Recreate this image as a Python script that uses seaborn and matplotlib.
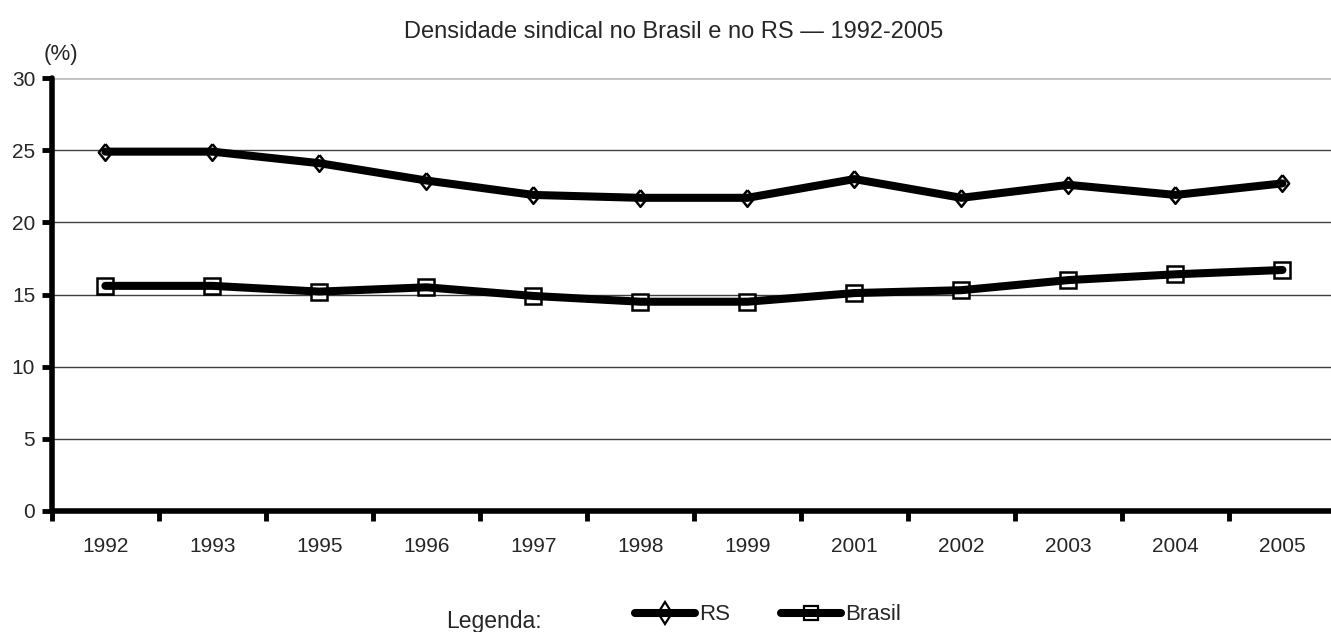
import pandas as pd
import numpy as np
import matplotlib
matplotlib.use("Agg")
import matplotlib.pyplot as plt
import seaborn as sns
from matplotlib.ticker import FixedLocator
from matplotlib.lines import Line2D
from matplotlib.legend_handler import HandlerTuple

# Dados
anos = ["1992", "1993", "1995", "1996", "1997", "1998", "1999", "2001", "2002", "2003", "2004", "2005"]
rs = [24.9, 24.9, 24.1, 22.9, 21.9, 21.7, 21.7, 23.0, 21.7, 22.6, 21.9, 22.7]
brasil = [15.6, 15.6, 15.2, 15.5, 14.9, 14.5, 14.5, 15.1, 15.3, 16.0, 16.4, 16.7]
series = ["RS", "Brasil"]

df = pd.DataFrame({
    "Ano": anos * 2,
    "Densidade": rs + brasil,
    "Serie": ["RS"] * len(anos) + ["Brasil"] * len(anos),
})

sns.set_style("white")
plt.rcParams["font.family"] = ["Liberation Sans", "DejaVu Sans"]

# losango um pouco mais alto que largo, como no Excel
losango = [(0, 1), (0.8, 0), (0, -1), (-0.8, 0), (0, 1)]
tam_marcador = {"RS": 12, "Brasil": 11}

fig = plt.figure(figsize=(13.31, 6.32), dpi=100)
ax = fig.add_axes([0.039, 0.1915, 0.9647, 0.685])

# marcadores por baixo, linha por cima (como no original)
sns.lineplot(data=df, x="Ano", y="Densidade", hue="Serie", style="Serie",
             hue_order=series, style_order=series,
             palette={"RS": "black", "Brasil": "black"},
             markers={"RS": losango, "Brasil": "s"}, dashes=False,
             linestyle="none", markersize=11, markerfacecolor="white",
             markeredgecolor="black", markeredgewidth=1.8,
             ax=ax, legend=False, zorder=2)
for ln, nome in zip(ax.get_lines(), series):
    ln.set_markersize(tam_marcador[nome])

sns.lineplot(data=df, x="Ano", y="Densidade", hue="Serie", hue_order=series,
             palette={"RS": "black", "Brasil": "black"},
             linewidth=5.8, solid_capstyle="round", solid_joinstyle="round",
             ax=ax, legend=False, zorder=3)

ax.set_ylim(0, 30)
ax.set_xlim(-0.5, len(anos) - 0.5)
ax.set_yticks([0, 5, 10, 15, 20, 25, 30])
ax.set_xticks(range(len(anos)))
ax.set_xticklabels(anos)
ax.xaxis.set_minor_locator(FixedLocator(np.arange(-0.5, len(anos) - 1, 1.0)))
ax.tick_params(bottom=True, left=True, which="both")
ax.tick_params(axis="x", which="major", length=0, pad=19, labelsize=15)
ax.tick_params(axis="x", which="minor", length=7, width=3.5, direction="out", color="black")
ax.tick_params(axis="y", which="major", length=7, width=3.5, direction="out", color="black",
               labelsize=15, pad=5)

for y in [5, 10, 15, 20, 25]:
    ax.axhline(y, color="#404040", linewidth=1.0, zorder=1)
ax.axhline(30, color="#c0c0c0", linewidth=2, zorder=1)

for s in ["top", "right"]:
    ax.spines[s].set_visible(False)
for s in ["left", "bottom"]:
    ax.spines[s].set_linewidth(4)
    ax.spines[s].set_color("black")
    ax.spines[s].set_capstyle("round")

ax.set_xlabel("")
ax.set_ylabel("")

fig.text(0.506, 0.950, "Densidade sindical no Brasil e no RS \u2014 1992-2005",
         ha="center", va="center", fontsize=17)
fig.text(0.046, 0.913, "(%)", ha="center", va="center", fontsize=16)

# legenda
def handle(marker, ms):
    mk = Line2D([], [], linestyle="none", marker=marker, markersize=ms,
                markerfacecolor="white", markeredgecolor="black", markeredgewidth=1.6)
    ln = Line2D([], [], color="black", linewidth=5.8, solid_capstyle="round")
    return (mk, ln)

handles = [handle("d", 11.5), handle("s", 10.5)]
fig.legend(handles, series, loc="center", bbox_to_anchor=(0.577, 0.027), ncol=2,
           frameon=False, fontsize=16, handlelength=2.7, handletextpad=0.2,
           columnspacing=2.3, handler_map={tuple: HandlerTuple(ndivide=1)})
fig.text(0.371, 0.016, "Legenda:", ha="center", va="center", fontsize=16.5)

fig.savefig("out.png", dpi=100)
